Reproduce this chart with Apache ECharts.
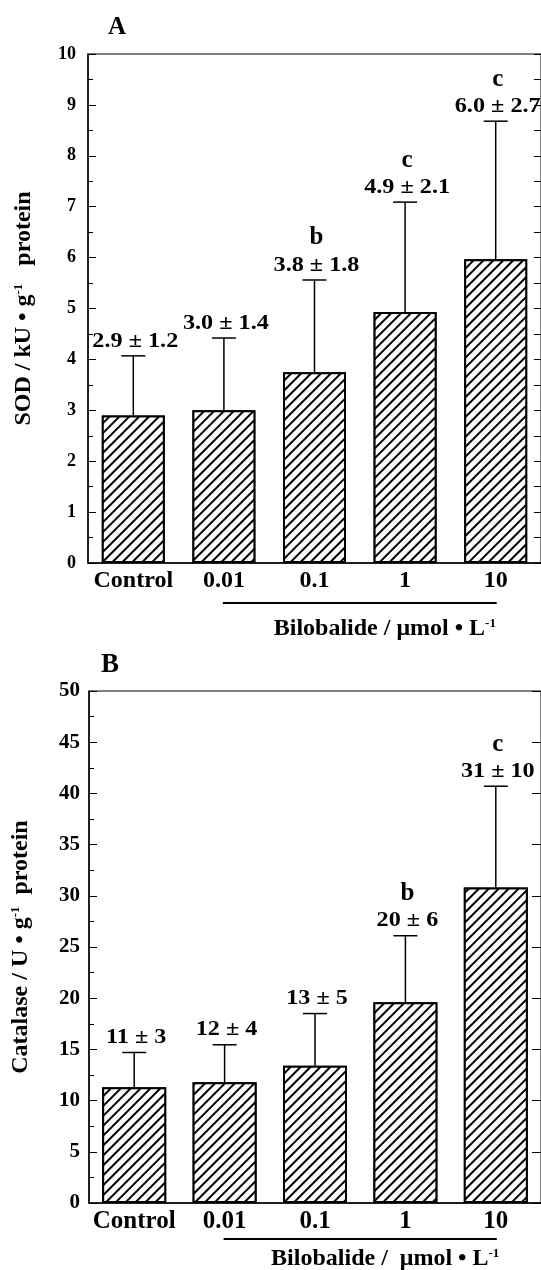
<!DOCTYPE html>
<html>
<head>
<meta charset="utf-8">
<script src="https://cdn.jsdelivr.net/npm/echarts@6/dist/echarts.min.js"></script>
<style>
  html, body { margin: 0; padding: 0; background: #fff; }
  #main { width: 541px; height: 1270px; }
</style>
</head>
<body>
<div id="main"></div>
<script>
// data
var categories = ['Control', '0.01', '0.1', '1', '10'];

// A: SOD
var sodMean = [2.9, 3.0, 3.75, 4.93, 5.97];
var sodTop = [4.07, 4.42, 5.56, 7.09, 8.68];   // upper end of error bar
var sodText = ['2.9 ± 1.2', '3.0 ± 1.4', '3.8 ± 1.8', '4.9 ± 2.1', '6.0 ± 2.7'];
var sodSig = ['', '', 'b', 'c', 'c'];
var sodTicks = [0, 10, 1];

// B: Catalase
var catMean = [11.3, 11.8, 13.4, 19.6, 30.8];
var catTop = [14.7, 15.45, 18.5, 26.1, 40.7];
var catText = ['11 ± 3', '12 ± 4', '13 ± 5', '20 ± 6', '31 ± 10'];
var catSig = ['', '', '', 'b', 'c'];
var catTicks = [0, 50, 5];

var serif = "'Liberation Serif','Times New Roman',serif";

function errItem(texts, sigs) {
  return function (params, api) {
    var i = api.value(0);
    var base = api.coord([i, api.value(1)]);
    var top = api.coord([i, api.value(2)]);
    var kids = [
      {type: 'line', shape: {x1: base[0], y1: base[1], x2: top[0], y2: top[1]},
        style: {stroke: '#000', lineWidth: 1.5}},
      {type: 'line', shape: {x1: top[0] - 12, y1: top[1], x2: top[0] + 12, y2: top[1]},
        style: {stroke: '#000', lineWidth: 1.5}},
      {type: 'text', x: top[0] + 2, y: top[1] - 15, scaleX: 1.1,
        style: {text: texts[i], font: 'bold 22px ' + serif, fill: '#000',
          align: 'center', verticalAlign: 'middle'}}
    ];
    if (sigs[i]) {
      kids.push({type: 'text', x: top[0] + 2, y: top[1] - 42,
        style: {text: sigs[i], font: 'bold 25px ' + serif, fill: '#000',
          align: 'center', verticalAlign: 'middle'}});
    }
    return {type: 'group', children: kids};
  };
}

var hatch = {
  symbol: 'rect', symbolSize: 1,
  dashArrayX: [1, 0], dashArrayY: [2, 5],
  rotation: -Math.PI / 4,
  color: '#000', backgroundColor: '#fff'
};

function leftAxis(gi, ticks, fs, name, gap, margin) {
  return {
    type: 'value', gridIndex: gi, min: ticks[0], max: ticks[1], interval: ticks[2],
    axisLine: {show: true, lineStyle: {color: '#000', width: 1.5}},
    axisTick: {show: true, inside: true, length: 8, lineStyle: {color: '#000'}},
    minorTick: {show: true, splitNumber: 2, length: 5, lineStyle: {color: '#000'}},
    splitLine: {show: false},
    axisLabel: {color: '#000', fontFamily: serif, fontWeight: 'bold', fontSize: fs, margin: margin},
    name: name, nameLocation: 'middle', nameGap: gap,
    nameTextStyle: {
      color: '#000',
      rich: {
        t: {fontFamily: serif, fontWeight: 'bold', fontSize: 24, color: '#000'},
        s: {fontFamily: serif, fontWeight: 'bold', fontSize: 13, color: '#000', padding: [0, 0, 10, 0]}
      }
    }
  };
}

function rightAxis(gi, ticks, step, len) {
  return {
    type: 'value', gridIndex: gi, position: 'right', min: ticks[0], max: ticks[1], interval: step,
    axisLine: {show: false},
    axisTick: {show: true, inside: true, length: len, lineStyle: {color: '#000'}},
    axisLabel: {show: false}, splitLine: {show: false}
  };
}

function catAxis(gi, fs) {
  return {
    type: 'category', gridIndex: gi, data: categories,
    axisLine: {show: true, lineStyle: {color: '#000', width: 1.5}},
    axisTick: {show: false},
    axisLabel: {color: '#000', fontFamily: serif, fontWeight: 'bold', fontSize: fs, margin: 6,
      interval: 0, hideOverlap: false}
  };
}

var chart = echarts.init(document.getElementById('main'));

var option = {
  backgroundColor: '#fff',
  animation: false,
  title: [
    {text: 'A', left: 103, top: 10, textStyle: {fontFamily: serif, fontWeight: 'bold', fontSize: 25, color: '#000'}},
    {text: 'B', left: 96, top: 647, textStyle: {fontFamily: serif, fontWeight: 'bold', fontSize: 27, color: '#000'}}
  ],
  grid: [
    {left: 88, top: 54, right: -2, height: 509, show: true, borderColor: '#000', borderWidth: 1},
    {left: 89, top: 691, right: -5, height: 512, show: true, borderColor: '#000', borderWidth: 1}
  ],
  xAxis: [catAxis(0, 24), catAxis(1, 25)],
  yAxis: [
    leftAxis(0, sodTicks, 18, '{t|SOD / kU • g}{s|-1}{t|   protein}', 52, 12),
    leftAxis(1, catTicks, 21, '{t|Catalase / U • g}{s|-1}{t|  protein}', 56, 9),
    rightAxis(0, sodTicks, 0.5, 7),
    rightAxis(1, catTicks, 5, 9)
  ],
  series: [
    {type: 'bar', xAxisIndex: 0, yAxisIndex: 0, data: sodMean, barWidth: 63,
      itemStyle: {color: '#fff', borderColor: '#000', borderWidth: 2, decal: hatch}},
    {type: 'bar', xAxisIndex: 1, yAxisIndex: 1, data: catMean, barWidth: 64,
      itemStyle: {color: '#fff', borderColor: '#000', borderWidth: 2, decal: hatch}},
    {type: 'custom', xAxisIndex: 0, yAxisIndex: 0, z: 5,
      data: sodMean.map(function (v, i) { return [i, v, sodTop[i]]; }),
      renderItem: errItem(sodText, sodSig)},
    {type: 'custom', xAxisIndex: 1, yAxisIndex: 1, z: 5,
      data: catMean.map(function (v, i) { return [i, v, catTop[i]]; }),
      renderItem: errItem(catText, catSig)}
  ]
};
chart.setOption(option);

// bracket line under the dose groups + unit label
function doseLabel(gi, lineOff, textOff, label) {
  var x1 = chart.convertToPixel({xAxisIndex: gi}, 1);
  var x2 = chart.convertToPixel({xAxisIndex: gi}, 4);
  var y0 = chart.convertToPixel({yAxisIndex: gi}, 0);
  return [
    {type: 'line', shape: {x1: x1 - 1, y1: y0 + lineOff, x2: x2 + 1, y2: y0 + lineOff},
      style: {stroke: '#000', lineWidth: 2}},
    {type: 'text', x: (x1 + x2) / 2 + 25, y: y0 + textOff,
      style: {text: label, align: 'center', verticalAlign: 'middle', fill: '#000',
        rich: {
          t: {fontFamily: serif, fontWeight: 'bold', fontSize: 24, fill: '#000'},
          s: {fontFamily: serif, fontWeight: 'bold', fontSize: 13, fill: '#000', padding: [0, 0, 10, 0]}
        }}}
  ];
}

chart.setOption({
  graphic: doseLabel(0, 40, 66, '{t|Bilobalide / μmol • L}{s|-1}')
    .concat(doseLabel(1, 36, 56, '{t|Bilobalide /  μmol • L}{s|-1}'))
});
</script>
</body>
</html>
